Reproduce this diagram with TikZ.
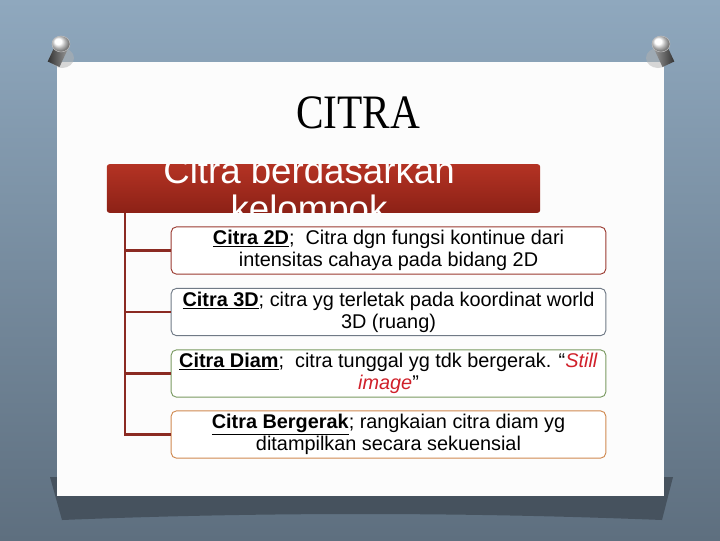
\documentclass[tikz,border=0pt]{standalone}
\usepackage{fontspec}
\setmainfont{Liberation Sans}
\newfontfamily\titlefont{Liberation Serif}
\definecolor{bgtop}{HTML}{8FA8BE}
\definecolor{bgbot}{HTML}{5E6F7F}
\definecolor{shadowc}{HTML}{46525E}
\definecolor{hdrtop}{HTML}{B43324}
\definecolor{hdrbot}{HTML}{8C2116}
\definecolor{connc}{HTML}{8B2A22}
\definecolor{bordA}{HTML}{9A3A30}
\definecolor{bordB}{HTML}{707A86}
\definecolor{bordC}{HTML}{7A9A62}
\definecolor{bordD}{HTML}{D08A50}
\definecolor{stillred}{HTML}{D0202A}
\begin{document}
\begin{tikzpicture}[x=0.75pt,y=-0.75pt,
  itembox/.style={draw, line width=0.7pt, rounded corners=4pt, fill=white,
    minimum width=326pt, minimum height=35.5pt, inner sep=0pt, align=center,
    font=\fontsize{14.9}{16.5}\selectfont},
  conn/.style={draw=connc, line width=1.6pt},
  hdrtext/.style={text=white, font=\fontsize{27.5}{29}\selectfont, inner sep=0pt, anchor=base}]
\useasboundingbox (0,0) rectangle (720,540);
% background
\shade[top color=bgtop, bottom color=bgbot] (0,0) rectangle (720,540);
% shadow under paper
\fill[shadowc] (50,477) -- (673,477) -- (662,520) .. controls (460,512) and (260,512) .. (62,520) -- cycle;
% paper
\fill[white!98!gray] (57,62) rectangle (664,496);
% pins
\fill[black!30, opacity=0.5] (62,58) ellipse (12 and 10);
\shade[left color=black!80, right color=black!40, rotate around={-25:(62,45)}] (56,45) rectangle (69,66);
\shade[ball color=white, draw=black!25] (61,44) ellipse (9 and 8);
\fill[black!30, opacity=0.5] (658,58) ellipse (12 and 10);
\shade[left color=black!40, right color=black!80, rotate around={25:(660,45)}] (653,45) rectangle (666,66);
\shade[ball color=white, draw=black!25] (661,44) ellipse (9 and 8);
% title
\node[font=\titlefont\fontsize{36}{40}\selectfont, inner sep=0pt] (title) at (358,113) {\scalebox{0.86}[1]{CITRA}};
% header
\node[rounded corners=2pt, top color=hdrtop, bottom color=hdrbot, minimum width=325pt, minimum height=36.5pt, inner sep=0pt] (hdr) at (323.5,188.5) {};
\begin{scope}
  \clip (107,164) rectangle (540,213);
  \node[hdrtext] (h1) at (309,183) {Citra berdasarkan};
  \node[hdrtext] (h2) at (309,221) {kelompok};
\end{scope}
% items
\node[itembox, draw=bordA] (b1) at (388.5,250.5) {\underline{\textbf{Citra 2D}};\ \ Citra dgn fungsi kontinue dari\\intensitas cahaya pada bidang 2D};
\node[itembox, draw=bordB] (b2) at (388.5,312) {\underline{\textbf{Citra 3D}}; citra yg terletak pada koordinat world\\3D (ruang)};
\node[itembox, draw=bordC] (b3) at (388.5,373.5) {\underline{\textbf{Citra Diam}};\ \ citra tunggal yg tdk bergerak. “\textcolor{stillred}{\textit{Still}}\\\textcolor{stillred}{\textit{image}}”};
\node[itembox, draw=bordD] (b4) at (388.5,434.5) {\underline{\textbf{Citra Bergerak}}; rangkaian citra diam yg\\ditampilkan secara sekuensial};
% connectors
\coordinate (trunk) at (125,213);
\draw[conn] (trunk) -- (trunk |- b4.west) -- (b4.west);
\draw[conn] (trunk |- b1.west) -- (b1.west);
\draw[conn] (trunk |- b2.west) -- (b2.west);
\draw[conn] (trunk |- b3.west) -- (b3.west);
\end{tikzpicture}
\end{document}
